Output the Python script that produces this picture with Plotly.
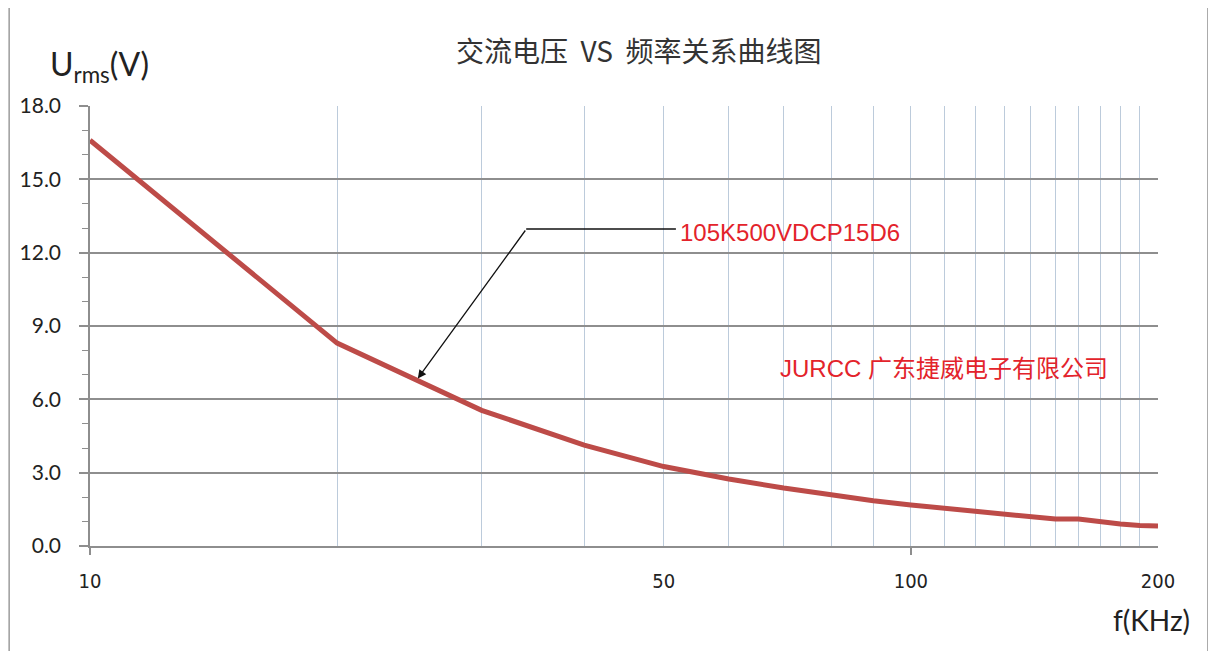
import numpy as np
import plotly.graph_objects as go

# ---- data ----
freq_khz = [10, 20, 30, 40, 50, 60, 70, 80, 90, 100,
            110, 120, 130, 140, 150, 160, 170, 180, 190, 200]
urms_v = [16.6, 8.3, 5.55, 4.13, 3.25, 2.74, 2.37, 2.09, 1.85, 1.68,
          1.55, 1.40, 1.32, 1.18, 1.10, 1.10, 0.98, 0.90, 0.84, 0.82]
x_tick_vals = [10, 50, 100, 200]
x_tick_text = ["10", "50", "100", "200"]
x_minor_vals = [20, 30, 40, 60, 70, 80, 90, 110, 120, 130, 140, 150, 160, 170, 180, 190]
x_decade_ticks = [10, 100]
series_name = "105K500VDCP15D6"
title_text = "交流电压\u00a0 VS\u00a0 频率关系曲线图"
company_text = "JURCC 广东捷威电子有限公司"
arrow_freq = 25

# the page places the figure 8px from the top-left corner; compensate
OFF = 8
W, H = 1216 - OFF, 651 - OFF
L, R, T, B = 88 - OFF, 58, 106 - OFF, 105
pw, ph = W - L - R, H - B - T


def px2paper(px, py):
    # px, py in screenshot pixel coordinates
    return (px - OFF - L) / pw, (H - B - (py - OFF)) / ph


line_color = "#BD4B48"
red_text = "#E3232B"
grid_h = "#8e8e8e"
grid_v = "#bccbdb"

fig = go.Figure()
fig.add_trace(go.Scatter(
    x=freq_khz, y=urms_v, mode="lines", name=series_name,
    line=dict(color=line_color, width=5), showlegend=False))
# helper trace so the secondary axis (decade tick marks) is drawn
fig.add_trace(go.Scatter(
    x=x_decade_ticks, y=[urms_v[0], urms_v[-1]], xaxis="x2", mode="lines",
    line=dict(width=0), opacity=0, hoverinfo="skip", showlegend=False))

xr = [np.log10(freq_khz[0]), np.log10(freq_khz[-1])]

fig.update_layout(
    width=W, height=H,
    margin=dict(l=L, r=R, t=T, b=B),
    paper_bgcolor="white", plot_bgcolor="white",
    xaxis=dict(
        type="log", range=xr,
        tickvals=x_tick_vals, ticktext=x_tick_text,
        ticks="", showgrid=True, gridcolor=grid_v, gridwidth=1.2,
        minor=dict(tickvals=x_minor_vals, showgrid=True,
                   gridcolor=grid_v, gridwidth=1.2, ticks=""),
        showline=True, linecolor=grid_h, linewidth=1.5,
        tickfont=dict(family="DejaVu Sans Condensed, Liberation Sans", size=20, color="#222"),
        ticklabelstandoff=16, zeroline=False,
    ),
    xaxis2=dict(
        type="log", range=xr, overlaying="x", anchor="y", side="bottom",
        tickvals=x_decade_ticks, ticks="outside", ticklen=8, tickwidth=1.5,
        tickcolor=grid_h, showticklabels=False, showgrid=False, showline=False,
        zeroline=False,
    ),
    yaxis=dict(
        range=[0, 18], dtick=3, tickformat=".1f",
        showgrid=True, gridcolor=grid_h, gridwidth=1.5,
        showline=True, linecolor=grid_h, linewidth=1.5,
        ticks="outside", ticklen=9, tickwidth=1.5, tickcolor=grid_h,
        minor=dict(dtick=1, ticks="outside", ticklen=6, tickwidth=1.2,
                   tickcolor=grid_h, showgrid=False),
        tickfont=dict(family="Lato", size=21, color="#222"),
        ticklabelstandoff=14, zeroline=False,
    ),
    font=dict(family="Lato"),
)

# outer chart border
bx0, by0 = px2paper(7, 662)
bx1, by1 = px2paper(1208, 5)
fig.add_shape(type="rect", xref="paper", yref="paper",
              x0=bx0, y0=by0, x1=bx1, y1=by1,
              line=dict(color="#9c9c9c", width=1.5), layer="below")

# title
tx, ty = px2paper(638, 50)
fig.add_annotation(xref="paper", yref="paper", x=tx, y=ty, text=title_text,
                   showarrow=False, xanchor="center", yanchor="middle",
                   font=dict(family="Noto Sans CJK SC", size=28, color="#333"))

# y axis title
ux, uy = px2paper(46, 66)
fig.add_annotation(xref="paper", yref="paper", x=ux, y=uy,
                   text="U<sub>rms</sub>(V)", showarrow=False,
                   xanchor="left", yanchor="middle",
                   font=dict(family="Lato", size=32, color="#222"))

# x axis title
fx, fy = px2paper(1192, 620)
fig.add_annotation(xref="paper", yref="paper", x=fx, y=fy,
                   text="f(KHz)", showarrow=False,
                   xanchor="right", yanchor="middle",
                   font=dict(family="Lato", size=28, color="#222"))

# series label with bent leader and arrow
arrow_val = float(np.interp(np.log10(arrow_freq), np.log10(freq_khz), urms_v))
elbow_px, label_px, leader_py = 525, 675, 229
ex, ey = px2paper(elbow_px, leader_py)
lx, _ = px2paper(label_px, leader_py)
fig.add_shape(type="line", xref="paper", yref="paper",
              x0=ex, y0=ey, x1=lx, y1=ey, line=dict(color="#111", width=1.3))
# pixel position of the arrow target to compute offsets
tgt_px = OFF + L + (np.log10(arrow_freq) - xr[0]) / (xr[1] - xr[0]) * pw
tgt_py = OFF + (H - B) - arrow_val / 18 * ph
fig.add_annotation(x=np.log10(arrow_freq), y=arrow_val, xref="x", yref="y",
                   text="", showarrow=True, arrowhead=2, arrowsize=1.3,
                   arrowwidth=1.3, arrowcolor="#111",
                   ax=elbow_px - tgt_px, ay=leader_py - tgt_py, standoff=2)
nx, ny = px2paper(677, 232)
fig.add_annotation(xref="paper", yref="paper", x=nx, y=ny, text=series_name,
                   showarrow=False, xanchor="left", yanchor="middle",
                   font=dict(family="Liberation Sans", size=24, color=red_text))

# company label
cx, cy = px2paper(777, 368)
fig.add_annotation(xref="paper", yref="paper", x=cx, y=cy, text=company_text,
                   showarrow=False, xanchor="left", yanchor="middle",
                   font=dict(family="Liberation Sans, Noto Sans CJK SC", size=24, color=red_text))

fig.write_html("out.html")
